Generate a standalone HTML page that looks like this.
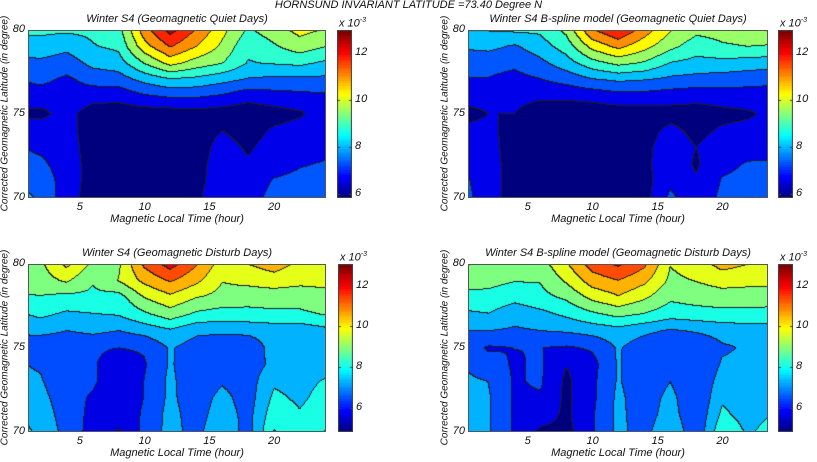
<!DOCTYPE html>
<html><head><meta charset="utf-8">
<style>
body{margin:0;background:#fff;width:817px;height:462px;overflow:hidden;position:relative;font-family:"Liberation Sans",sans-serif;font-style:italic;}
.t{position:absolute;font-size:11px;color:#111;white-space:nowrap;}
canvas{position:absolute;}
.frame{position:absolute;border:1px solid #555;box-sizing:border-box;pointer-events:none;}
</style></head>
<body>
<div class="t" style="left:0;width:817px;text-align:center;top:-1px;">HORNSUND INVARIANT LATITUDE =73.40 Degree N</div>
<div id="root"></div>
<script>
// shared axes data
const lats = [70,71,72,73,74,75,76,77,78,79,80];
const hours = [0,2,4,6,8,10,12,14,16,18,20,22,24];
const xTicks = [5,10,15,20];
const yTicks = [70,75,80];
const cbTicks = [6,8,10,12];
// rows from lat 70 (first) up to lat 80 (last)
const quietData = [
[8.4,8.0,6.9,6.3,6.2,6.3,6.2,6.4,7.3,7.0,7.6,7.8,7.7],
[8.0,7.8,7.0,6.3,6.2,6.2,6.1,6.3,7.1,6.9,7.4,7.5,7.6],
[7.7,7.5,7.0,6.3,6.1,6.2,6.1,6.3,7.0,6.7,7.1,7.3,7.4],
[7.4,7.2,7.0,6.2,6.1,6.1,6.1,6.2,6.9,6.5,6.9,7.0,7.2],
[7.0,7.0,6.9,6.2,6.1,6.1,6.1,6.2,6.6,6.3,6.7,6.9,7.0],
[6.5,6.4,6.9,6.2,6.2,6.2,6.2,6.3,6.2,6.2,6.3,6.5,7.0],
[7.0,7.0,7.0,6.9,6.8,7.2,7.4,7.4,7.2,6.8,7.0,7.1,7.2],
[7.3,7.5,7.2,7.6,7.7,8.3,8.7,8.6,8.3,8.0,7.9,7.9,7.9],
[7.8,7.9,7.7,8.3,8.5,9.6,10.6,10.0,9.6,8.8,8.9,9.0,8.7],
[8.6,8.6,8.3,8.8,9.0,10.8,11.9,11.1,10.2,9.0,9.5,10.0,9.6],
[9.0,9.0,9.0,9.0,9.3,11.5,12.9,11.8,10.6,9.5,10.0,10.6,10.3]];
const quietModel = [
[7.6,7.0,6.2,6.0,6.0,5.9,6.0,6.3,7.5,6.9,7.5,7.6,7.6],
[7.5,7.0,6.2,6.0,6.0,5.95,6.0,6.3,7.2,6.7,7.4,7.5,7.5],
[7.2,7.0,6.2,6.0,6.0,6.0,6.0,6.4,7.1,6.5,7.2,7.4,7.4],
[7.0,6.9,6.2,6.1,6.0,6.0,6.1,6.4,7.0,6.6,7.0,7.1,7.2],
[6.8,6.8,6.3,6.1,6.1,6.1,6.2,6.3,6.8,6.4,6.7,6.8,7.0],
[6.3,6.6,6.6,6.2,6.2,6.2,6.2,6.2,6.3,6.3,6.4,6.5,6.8],
[6.9,6.9,6.8,6.7,6.7,6.8,7.0,7.0,6.9,6.8,6.9,7.0,7.0],
[7.3,7.3,7.1,7.3,7.6,8.0,8.2,8.1,7.9,7.8,7.7,7.6,7.5],
[7.6,7.6,7.5,7.9,8.5,9.3,9.8,9.5,8.8,8.6,8.6,8.5,8.4],
[8.2,8.3,8.0,8.5,9.2,10.6,11.3,10.6,9.8,9.2,9.5,9.6,9.5],
[8.9,8.9,9.0,9.0,9.8,11.8,12.6,11.5,10.4,9.8,9.9,10.1,10.5]];
const disturbData = [
[8.4,8.0,7.0,6.2,5.6,6.7,7.6,7.0,8.1,6.9,9.0,8.3,9.0],
[8.3,7.8,6.9,6.3,5.9,6.6,7.6,6.9,7.8,7.0,8.6,8.2,8.6],
[8.0,7.6,6.8,6.4,6.0,6.5,7.5,6.8,7.6,6.9,8.3,8.0,8.4],
[7.6,7.4,6.6,6.6,6.0,6.5,7.5,6.7,7.2,6.9,8.0,7.9,8.2],
[7.4,7.2,6.6,6.6,6.0,6.4,7.4,6.8,6.7,6.9,7.5,7.5,7.8],
[7.0,6.5,6.6,6.6,6.5,6.6,7.4,6.9,6.6,6.8,7.6,7.5,7.6],
[7.4,7.6,7.3,7.5,7.3,7.6,8.0,7.5,7.5,7.5,7.6,7.6,7.9],
[8.0,8.3,8.0,8.1,8.2,8.8,9.4,8.8,8.6,8.7,8.8,8.8,9.0],
[8.8,8.9,8.7,8.8,8.6,9.8,10.4,9.8,9.5,9.3,9.3,9.3,9.5],
[9.6,9.4,9.9,9.0,9.8,10.8,11.5,10.8,9.8,10.0,10.2,10.0,10.0],
[10.0,9.6,10.8,9.6,9.6,11.6,12.6,11.5,10.2,10.6,11.0,10.4,10.3]];
const disturbModel = [
[8.3,7.4,6.4,5.5,5.4,6.4,7.5,7.0,8.1,6.6,8.8,8.0,8.5],
[8.2,7.4,6.4,6.1,5.5,6.4,7.5,6.9,7.7,6.6,8.3,7.8,8.2],
[7.8,7.4,6.4,6.4,5.5,6.3,7.5,6.8,7.6,6.5,8.0,7.8,8.0],
[7.5,7.3,6.4,6.6,5.5,6.3,7.4,6.7,7.3,6.5,7.7,7.6,7.8],
[7.3,6.8,6.4,6.6,5.7,6.2,7.4,6.7,6.6,6.5,7.4,7.5,7.6],
[6.9,6.4,6.5,6.5,6.4,6.6,7.4,6.8,6.6,6.6,7.2,7.4,7.5],
[7.3,7.3,7.2,7.3,7.4,7.6,7.8,7.5,7.2,7.4,7.6,7.7,7.8],
[8.0,8.1,7.6,7.9,8.3,8.8,9.2,8.9,8.5,8.6,8.7,8.7,8.6],
[8.5,8.7,8.4,8.7,9.1,10.0,10.5,9.9,9.1,9.3,9.4,9.4,9.4],
[9.5,9.2,9.0,9.0,9.9,11.0,11.4,10.8,9.6,9.8,10.1,10.0,10.0],
[9.9,9.5,9.2,9.4,10.5,11.8,12.4,11.6,9.8,10.2,10.9,10.6,10.3]];

function jet(f){f=Math.max(0,Math.min(1,f));
 const r=Math.max(0,Math.min(1,Math.min(4*f-1.5,-4*f+4.5)));
 const g=Math.max(0,Math.min(1,Math.min(4*f-0.5,-4*f+3.5)));
 const b=Math.max(0,Math.min(1,Math.min(4*f+0.5,-4*f+2.5)));
 return [r*255|0,g*255|0,b*255|0];}
function interp(data,h,l){
 let i=0;while(i<hours.length-2&&h>hours[i+1])i++;
 let j=0;while(j<lats.length-2&&l>lats[j+1])j++;
 let tx=(h-hours[i])/(hours[i+1]-hours[i]);tx=Math.max(0,Math.min(1,tx));
 let ty=(l-lats[j])/(lats[j+1]-lats[j]);ty=Math.max(0,Math.min(1,ty));
 const a=data[j][i],b=data[j][i+1],c=data[j+1][i],d=data[j+1][i+1];
 return (a*(1-tx)+b*tx)*(1-ty)+(c*(1-tx)+d*tx)*ty;}

const panels=[
 {name:'quiet-data',title:'Winter S4  (Geomagnetic Quiet Days)',data:quietData,x:28,y:30,w:298,h:168,cbx:337,xmin:1,xmax:24,vmin:5.85,vmax:13,step:0.75},
 {name:'quiet-model',title:'Winter S4 B-spline model (Geomagnetic Quiet Days)',data:quietModel,x:468,y:30,w:300,h:168,cbx:778,xmin:0.4,xmax:23.5,vmin:5.85,vmax:13,step:0.75},
 {name:'disturb-data',title:'Winter S4  (Geomagnetic Disturb Days)',data:disturbData,x:28,y:264,w:298,h:168,cbx:338,xmin:1,xmax:24,vmin:4.85,vmax:13.05,step:0.82},
 {name:'disturb-model',title:'Winter S4 B-spline model (Geomagnetic Disturb Days)',data:disturbModel,x:468,y:264,w:300,h:168,cbx:778,xmin:0.4,xmax:23.5,vmin:4.85,vmax:13.05,step:0.82}];
const root=document.getElementById('root');
function txt(s,l,t,extra,name){const d=document.createElement('div');d.className='t';d.textContent=s;d.style.left=l+'px';d.style.top=t+'px';if(extra)d.style.cssText+=extra;


root.appendChild(d);return d;}
panels.forEach(p=>{
 const c=document.createElement('canvas');c.width=p.w;c.height=p.h;c.style.left=p.x+'px';c.style.top=p.y+'px';
 
 
 root.appendChild(c);
 const ctx=c.getContext('2d');const img=ctx.createImageData(p.w,p.h);
 const band=new Int16Array(p.w*p.h);
 for(let y=0;y<p.h;y++)for(let x=0;x<p.w;x++){
  const h=p.xmin+(x+0.5)/p.w*(p.xmax-p.xmin);const l=80-(y+0.5)/p.h*10;
  const v=interp(p.data,h,l);band[y*p.w+x]=Math.max(0,Math.floor((v-p.vmin)/p.step));}
 for(let y=0;y<p.h;y++)for(let x=0;x<p.w;x++){
  const k=y*p.w+x,b=band[k];let col=jet(b*p.step/(p.vmax-p.vmin));
  if((x<p.w-1&&band[k+1]!==b)||(y<p.h-1&&band[k+p.w]!==b))col=[30,30,30];
  img.data[k*4]=col[0];img.data[k*4+1]=col[1];img.data[k*4+2]=col[2];img.data[k*4+3]=255;}
 ctx.putImageData(img,0,0);
 const f=document.createElement('div');f.className='frame';f.style.cssText+=`left:${p.x}px;top:${p.y}px;width:${p.w}px;height:${p.h}px`;
 
 
 root.appendChild(f);
 // colorbar
 const cb=document.createElement('canvas');cb.width=15;cb.height=p.h;cb.style.left=p.cbx+'px';cb.style.top=p.y+'px';
 
 
 root.appendChild(cb);const cc=cb.getContext('2d');
 for(let i=0;i<64;i++){const co=jet(i/63);cc.fillStyle=`rgb(${co})`;const y0=p.h-(i+1)*p.h/64;cc.fillRect(0,Math.floor(y0),15,Math.ceil(p.h/64)+1);}
 cc.strokeStyle='#444';cc.strokeRect(0.5,0.5,14,p.h-1);
 cbTicks.forEach(t=>{const yy=p.h-(t-p.vmin)/(p.vmax-p.vmin)*p.h;cc.beginPath();cc.moveTo(0,yy);cc.lineTo(3,yy);cc.moveTo(12,yy);cc.lineTo(15,yy);cc.stroke();
  txt(String(t),p.cbx+18,p.y+yy-7,'',p.name+'-cb-tick-'+t);});
 const ex=txt('x 10',p.cbx+2,p.y-13,'',p.name+'-cb-exponent');
 const sup=document.createElement('sup');sup.textContent='-3';sup.style.fontSize='7px';ex.appendChild(sup);
 // title
 txt(p.title,p.x,p.y-17,`width:${p.w}px;text-align:center;`,p.name+'-title');
 // x ticks
 xTicks.forEach(t=>{const xx=p.x+(t-p.xmin)/(p.xmax-p.xmin)*p.w;txt(String(t),xx-8,p.y+p.h+3,'width:16px;text-align:center;',p.name+'-x-tick-'+t);});
 txt('Magnetic Local Time (hour)',p.x,p.y+p.h+15,`width:${p.w}px;text-align:center;`,p.name+'-x-axis-title');
 yTicks.forEach(t=>{const yy=p.y+(80-t)/10*p.h;txt(String(t),p.x-22,yy-7,'width:19px;text-align:right;',p.name+'-y-tick-'+t);});
 txt('Corrected Geomagnetic Latitude (in degree)',p.x-23-100,p.y+p.h/2-6,'width:200px;text-align:center;transform:rotate(-90deg);font-size:10px;',p.name+'-y-axis-title');
});
</script>
</body></html>
